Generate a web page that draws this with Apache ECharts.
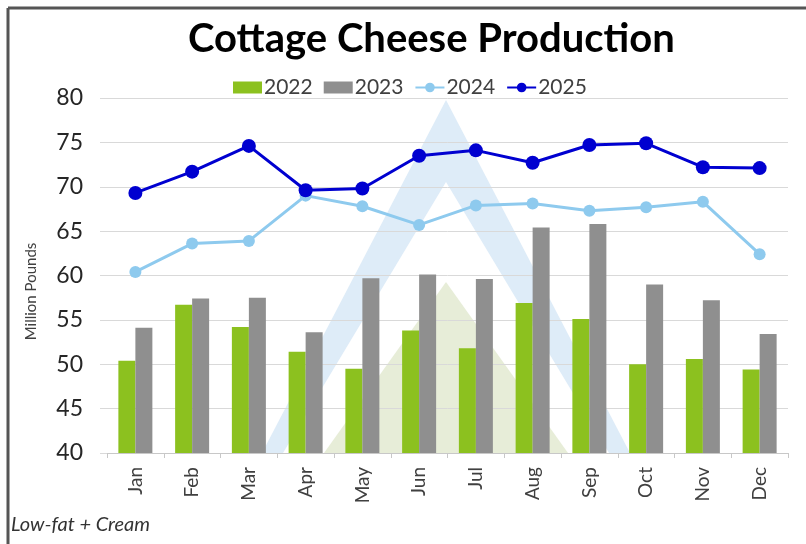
<!DOCTYPE html>
<html>
<head>
<meta charset="utf-8">
<style>
  html, body { margin: 0; padding: 0; background: #ffffff; }
  #chart { width: 806px; height: 544px; }
</style>
<script src="https://cdn.jsdelivr.net/npm/echarts@6/dist/echarts.min.js"></script>
</head>
<body>
<div id="chart"></div>
<script>
// Monthly cottage cheese production (low-fat + cream), million pounds
const months = ['Jan', 'Feb', 'Mar', 'Apr', 'May', 'Jun', 'Jul', 'Aug', 'Sep', 'Oct', 'Nov', 'Dec'];
const prod2022 = [50.4, 56.7, 54.2, 51.4, 49.5, 53.8, 51.8, 56.9, 55.1, 50.0, 50.6, 49.4];
const prod2023 = [54.1, 57.4, 57.5, 53.6, 59.7, 60.1, 59.6, 65.4, 65.8, 59.0, 57.2, 53.4];
const prod2024 = [60.4, 63.6, 63.9, 69.0, 67.8, 65.7, 67.9, 68.1, 67.3, 67.7, 68.3, 62.4];
const prod2025 = [69.3, 71.7, 74.6, 69.6, 69.8, 73.5, 74.1, 72.7, 74.7, 74.9, 72.2, 72.1];
const yTicks = { min: 40, max: 80, step: 5 };

const FONT = 'Lato, "Open Sans", sans-serif';
const TEXT = '#404040';

// plot area box (px)
const G = { left: 107, top: 98, right: 18, bottom: 91 };

const chart = echarts.init(document.getElementById('chart'), null, { renderer: 'canvas' });

// faint logo behind the plot: blue "A" band with a green triangle inside
const baseY = 453;
const logo = [
  { type: 'polygon', z: -3, silent: true,
    shape: { points: [[446, 100], [630, baseY], [262, baseY]] },
    style: { fill: '#deecf8' } },
  { type: 'polygon', z: -2, silent: true,
    shape: { points: [[446, 182], [609, baseY], [283, baseY]] },
    style: { fill: '#ffffff' } },
  { type: 'polygon', z: -1, silent: true,
    shape: { points: [[446, 282], [568, baseY], [324, baseY]] },
    style: { fill: '#e7edd8' } }
];

const frame = [
  { type: 'line', silent: true, shape: { x1: 8, y1: 8, x2: 8, y2: 544 },
    style: { stroke: '#555555', lineWidth: 3 } },
  { type: 'line', silent: true, shape: { x1: 8, y1: 8, x2: 806, y2: 8 },
    style: { stroke: '#555555', lineWidth: 3 } }
];

const footnote = {
  type: 'text', left: 11, top: 515, silent: true,
  style: { text: 'Low-fat + Cream', fontFamily: FONT, fontStyle: 'italic',
           fontSize: 20, fill: '#333333' }
};

chart.setOption({
  animation: false,
  backgroundColor: '#ffffff',
  textStyle: { fontFamily: FONT },
  title: {
    text: 'Cottage Cheese Production',
    left: 183, top: 14,
    textStyle: { fontFamily: FONT, fontWeight: 'bold', fontSize: 40, color: '#000000' }
  },
  legend: {
    left: 228, top: 72,
    itemWidth: 29, itemHeight: 12, itemGap: 11,
    textStyle: { fontFamily: FONT, fontSize: 21, color: TEXT, padding: [0, 0, 0, -3] },
    data: [
      { name: '2022', icon: 'rect' },
      { name: '2023', icon: 'rect' },
      { name: '2024' },
      { name: '2025' }
    ]
  },
  grid: {
    left: G.left, top: G.top, right: G.right, bottom: G.bottom,
    containLabel: false, outerBoundsMode: 'none'
  },
  xAxis: {
    type: 'category',
    data: months,
    boundaryGap: true,
    axisLine: { show: true, lineStyle: { color: '#c8c8c8', width: 1 } },
    axisTick: { show: true, alignWithLabel: false, length: 5, lineStyle: { color: '#c8c8c8' } },
    axisLabel: { rotate: 90, margin: 14, fontFamily: FONT, fontSize: 19, color: TEXT },
    splitLine: { show: false }
  },
  yAxis: {
    type: 'value',
    min: yTicks.min, max: yTicks.max, interval: yTicks.step,
    name: 'Million Pounds',
    nameLocation: 'middle',
    nameGap: 68,
    nameRotate: 90,
    nameTextStyle: { fontFamily: FONT, fontSize: 15, color: TEXT, padding: [0, 32, 0, 0] },
    axisLine: { show: false },
    axisTick: { show: true, length: 7, lineStyle: { color: '#d9d9d9' } },
    axisLabel: { margin: 24, fontFamily: FONT, fontSize: 23, color: '#262626' },
    splitLine: { show: true, lineStyle: { color: '#d9d9d9', width: 1 } }
  },
  series: [
    { name: '2022', type: 'bar', data: prod2022, barWidth: 17, barGap: '0%',
      itemStyle: { color: '#8cc11f' }, z: 2 },
    { name: '2023', type: 'bar', data: prod2023, barWidth: 17, barGap: '0%',
      itemStyle: { color: '#8f8f8f' }, z: 2 },
    { name: '2024', type: 'line', data: prod2024,
      symbol: 'circle', symbolSize: 12,
      lineStyle: { color: '#8ecaee', width: 3 },
      itemStyle: { color: '#8ecaee' }, z: 3 },
    { name: '2025', type: 'line', data: prod2025,
      symbol: 'circle', symbolSize: 14,
      lineStyle: { color: '#0000d0', width: 3 },
      itemStyle: { color: '#0000d0' }, z: 4 }
  ],
  graphic: { elements: [...logo, ...frame, footnote] }
});
</script>
</body>
</html>
